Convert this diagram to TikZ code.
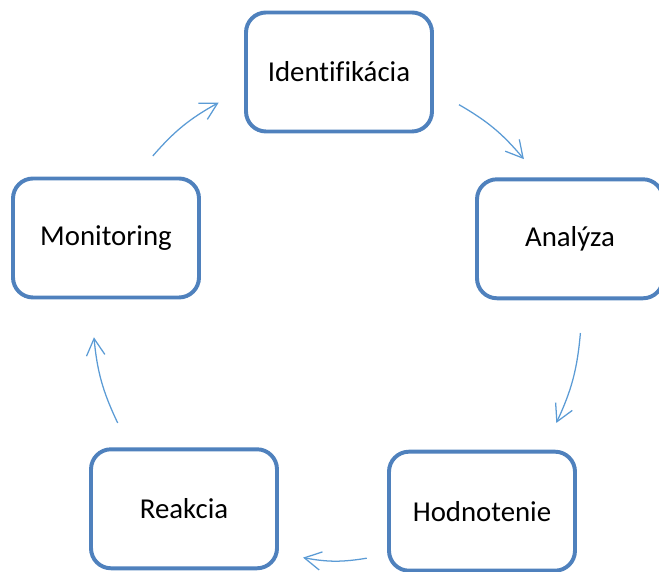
\documentclass[tikz,border=0pt]{standalone}
\usepackage{fontspec}
\setmainfont[Ligatures=NoCommon]{Carlito}
\usetikzlibrary{arrows.meta,positioning,calc}
\definecolor{boxblue}{RGB}{79,129,189}
\definecolor{arrowblue}{RGB}{91,155,213}
\tikzset{
  stage/.style={draw=boxblue, line width=2.8pt, rounded corners=0.5cm, fill=white,
    minimum width=4.65cm, minimum height=2.975cm, font=\fontsize{20.5}{24}\selectfont},
  flow/.style={draw=arrowblue, line width=0.9pt, -{Straight Barb[length=4.2mm,width=4.6mm]}}
}

\begin{document}
\begin{tikzpicture}
    \clip (0,0) rectangle (16.475,14.3);
    \coordinate (c) at (8.425,6.4);
    \foreach \name/\txt/\pos in {ide/Identifikácia/{8.475,12.5},ana/Analýza/{14.25,8.33},
        hod/Hodnotenie/{12.05,1.52},rea/Reakcia/{4.6,1.58},mon/Monitoring/{2.65,8.35}} {
      \node[stage] (\name) at (\pos) {\txt};
    }
    \foreach \a/\b [count=\k] in {139/119,60/40,-4/-26,-83/-98,206/185} {
      \coordinate (s\k) at ($(c)+(\a:6.1)$);
      \coordinate (e\k) at ($(c)+(\b:6.1)$);
      \draw[flow] (s\k) to[bend left=10] (e\k);
    }
\end{tikzpicture}
\end{document}
